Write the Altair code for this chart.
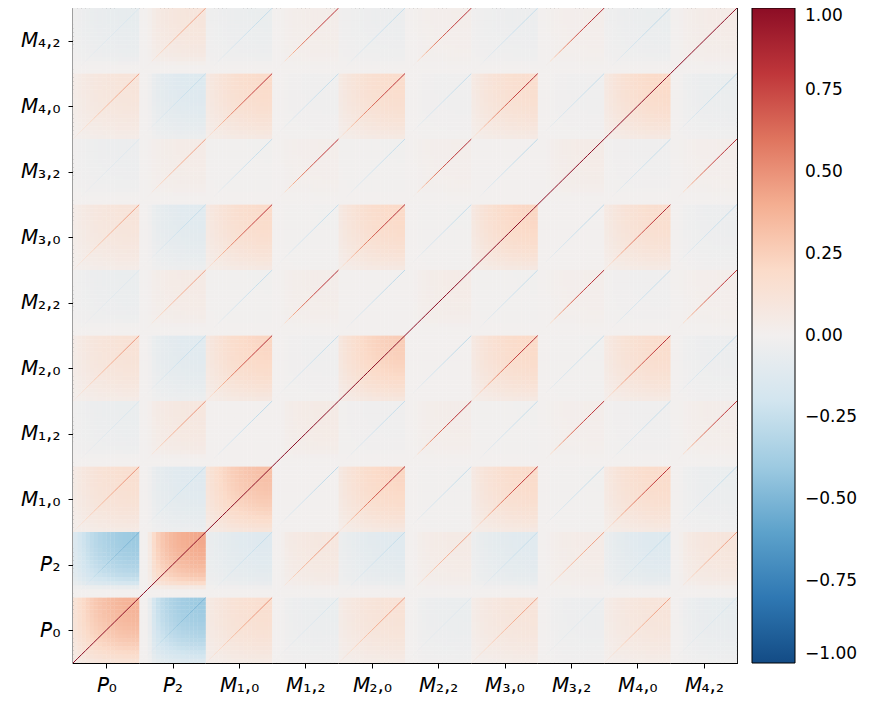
import json
import altair as alt
import pandas as pd

# ---- data ----
LABELS = ["\U0001D617\u2080", "\U0001D617\u2082",
          "\U0001D614\u2081,\u2080", "\U0001D614\u2081,\u2082",
          "\U0001D614\u2082,\u2080", "\U0001D614\u2082,\u2082",
          "\U0001D614\u2083,\u2080", "\U0001D614\u2083,\u2082",
          "\U0001D614\u2084,\u2080", "\U0001D614\u2084,\u2082"]
ELL = [0, 2, 0, 2, 0, 2, 0, 2, 0, 2]

# block amplitude (high-k corner), rows bottom->top, cols left->right
BLOCK = [
    [0.38, -0.40, 0.16, -0.05, 0.13, -0.05, 0.11, -0.04, 0.11, -0.07],
    [-0.40, 0.42, -0.12, 0.08, -0.11, 0.05, -0.11, 0.04, -0.13, 0.10],
    [0.16, -0.12, 0.32, 0.00, 0.22, -0.01, 0.19, -0.01, 0.19, -0.05],
    [-0.05, 0.08, 0.00, 0.05, -0.02, 0.03, -0.01, 0.02, -0.02, 0.03],
    [0.13, -0.11, 0.22, -0.02, 0.26, 0.00, 0.20, -0.01, 0.18, -0.04],
    [-0.05, 0.05, -0.01, 0.03, 0.00, 0.04, -0.01, 0.02, -0.02, 0.02],
    [0.11, -0.11, 0.19, -0.01, 0.20, -0.01, 0.22, 0.00, 0.17, -0.04],
    [-0.04, 0.04, -0.01, 0.02, -0.01, 0.02, 0.00, 0.04, -0.02, 0.02],
    [0.11, -0.13, 0.19, -0.02, 0.18, -0.02, 0.17, -0.02, 0.20, -0.05],
    [-0.07, 0.10, -0.05, 0.03, -0.04, 0.02, -0.04, 0.02, -0.05, 0.04],
]

# value of the same-k diagonal inside each block
LINE = [
    [1.00, -0.50, 0.50, -0.15, 0.48, -0.12, 0.45, -0.12, 0.45, -0.15],
    [-0.50, 1.00, -0.25, 0.50, -0.25, 0.45, -0.25, 0.45, -0.25, 0.45],
    [0.50, -0.25, 1.00, -0.28, 0.85, -0.25, 0.82, -0.25, 0.82, -0.25],
    [-0.15, 0.50, -0.28, 1.00, -0.25, 0.85, -0.25, 0.82, -0.25, 0.82],
    [0.48, -0.25, 0.85, -0.25, 1.00, -0.28, 0.85, -0.25, 0.82, -0.25],
    [-0.12, 0.45, -0.25, 0.85, -0.28, 1.00, -0.25, 0.85, -0.25, 0.82],
    [0.45, -0.25, 0.82, -0.25, 0.85, -0.25, 1.00, -0.28, 0.85, -0.25],
    [-0.12, 0.45, -0.25, 0.82, -0.25, 0.85, -0.28, 1.00, -0.25, 0.85],
    [0.45, -0.25, 0.82, -0.25, 0.82, -0.25, 0.85, -0.25, 1.00, -0.28],
    [-0.15, 0.45, -0.25, 0.82, -0.25, 0.82, -0.25, 0.85, -0.28, 1.00],
]

# within-block weight, low k -> high k
PROFILE_L0 = [0.35, 0.45, 0.54, 0.62, 0.69, 0.75, 0.80, 0.84,
              0.88, 0.91, 0.94, 0.96, 0.98, 0.99, 1.00, 1.00]
PROFILE_L2 = [0.00, 0.00, 0.15, 0.45, 0.60, 0.70, 0.77, 0.83,
              0.87, 0.91, 0.94, 0.96, 0.98, 0.99, 1.00, 1.00]

TICKS = [1.0, 0.75, 0.5, 0.25, 0.0, -0.25, -0.5, -0.75, -1.0]

# ---- build tables ----
n = len(PROFILE_L0)
ov = 0.08 / n  # tiny overlap so neighbouring cells leave no seams
cells, segs = [], []
for i in range(10):
    pi = PROFILE_L0 if ELL[i] == 0 else PROFILE_L2
    for j in range(10):
        pj = PROFILE_L0 if ELL[j] == 0 else PROFILE_L2
        for a in range(n):
            for b in range(n):
                cells.append(dict(x=j + b / n, x2=min(10, j + (b + 1) / n + ov),
                                  y=i + a / n, y2=min(10, i + (a + 1) / n + ov),
                                  v=round(BLOCK[i][j] * pi[a] * pj[b], 4)))
            val = 1.0 if i == j else LINE[i][j] * pi[a] * pj[a]
            segs.append(dict(x=j + a / n, x2=j + (a + 1) / n,
                             y=i + a / n, y2=i + (a + 1) / n, w=round(val, 4)))

cells = pd.DataFrame(cells)
segs = pd.DataFrame(segs)

centers = [k + 0.5 for k in range(10)]
lab_expr = json.dumps(LABELS) + "[floor(datum.value)]"

cscale = alt.Scale(scheme="redblue", reverse=True, domain=[-1, 1])
sscale = alt.Scale(scheme="redblue", reverse=True, domain=[-1, 1])
xs = alt.Scale(domain=[0, 10], nice=False, zero=False)
ys = alt.Scale(domain=[0, 10], nice=False, zero=False)

xax = alt.Axis(values=centers, labelExpr=lab_expr, title=None, grid=False,
               tickSize=5, labelFontSize=20, labelPadding=7)
yax = alt.Axis(values=centers, labelExpr=lab_expr, title=None, grid=False,
               tickSize=5, labelFontSize=20, labelPadding=8)

legend = alt.Legend(type="gradient", values=TICKS, gradientLength=655,
                    gradientThickness=43, direction="vertical",
                    labelFontSize=17, labelOffset=10, offset=15,
                    gradientStrokeColor="black", gradientStrokeWidth=1,
                    labelOverlap=False,
                    labelExpr="replace(format(datum.value, '.2f'), '-', '\u2212')")

heat = alt.Chart(cells).mark_rect().encode(
    x=alt.X("x:Q", scale=xs, axis=xax),
    x2="x2:Q",
    y=alt.Y("y:Q", scale=ys, axis=yax),
    y2="y2:Q",
    color=alt.Color("v:Q", scale=cscale, legend=legend, title=None),
)

lines = alt.Chart(segs).mark_rule(strokeWidth=1.0).encode(
    x="x:Q", x2="x2:Q", y="y:Q", y2="y2:Q",
    stroke=alt.Stroke("w:Q", scale=sscale, legend=None),
)

chart = alt.layer(heat, lines).resolve_scale(stroke="independent").properties(
    width=664, height=655,
    autosize=alt.AutoSizeParams(type="none"),
    padding={"left": 65, "top": 0, "right": 124, "bottom": 40},
    background="white",
).configure_view(
    stroke="black", strokeWidth=1.2
).configure_axis(
    domainColor="black", tickColor="black", labelColor="black",
    labelFont="DejaVu Sans", domainWidth=1.2,
).configure_legend(
    labelFont="DejaVu Sans", labelColor="black",
)

chart.save("out.html", embed_options={"renderer": "svg", "actions": False})
